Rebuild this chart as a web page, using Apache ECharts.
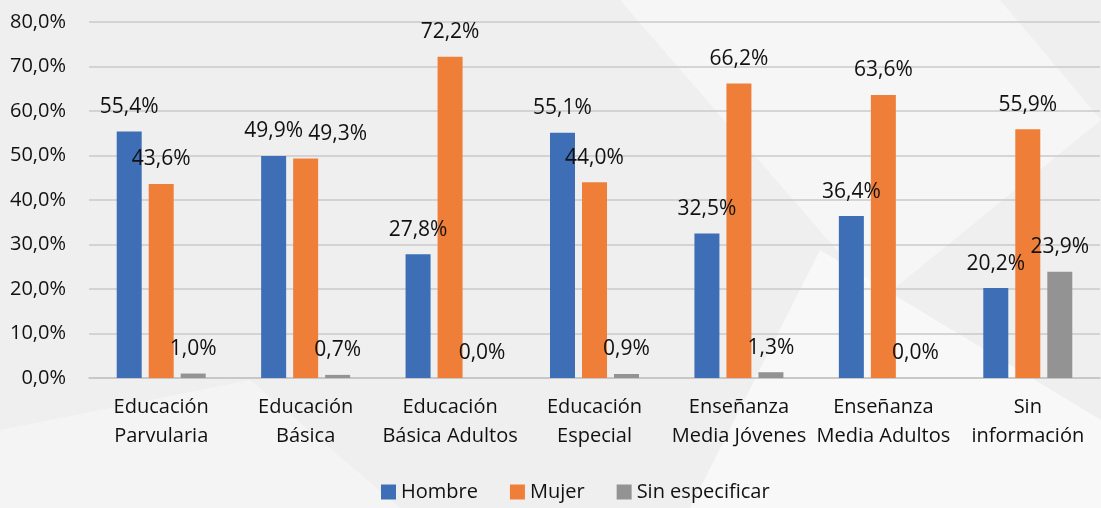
<!DOCTYPE html>
<html lang="es">
<head>
<meta charset="UTF-8">
<title>Gráfico</title>
<script src="https://cdn.jsdelivr.net/npm/echarts@6/dist/echarts.min.js"></script>
<style>
  * { margin: 0; padding: 0; }
  #chart { width: 1101px; height: 508px; }
</style>
</head>
<body>
<div id="chart"></div>
<script>
  const categories = [
    'Educación\nParvularia',
    'Educación\nBásica',
    'Educación\nBásica Adultos',
    'Educación\nEspecial',
    'Enseñanza\nMedia Jóvenes',
    'Enseñanza\nMedia Adultos',
    'Sin\ninformación'
  ]
  const hombre = [55.4, 49.9, 27.8, 55.1, 32.5, 36.4, 20.2]
  const mujer = [43.6, 49.3, 72.2, 44.0, 66.2, 63.6, 55.9]
  const sinEspecificar = [1.0, 0.7, 0.0, 0.9, 1.3, 0.0, 23.9]

  const fmt = v => v.toFixed(1).replace('.', ',') + '%'
  const font = '"Open Sans", sans-serif'

  const chart = echarts.init(document.getElementById('chart'))

  function barSeries(name, data) {
    return {
      name: name,
      type: 'bar',
      data: data,
      barWidth: 25,
      barGap: '28%',
      label: {
        show: true,
        position: 'top',
        distance: 14,
        color: '#111',
        fontFamily: font,
        fontSize: 21,
        formatter: p => fmt(p.value)
      }
    }
  }

  // the "49,3%" label sits to the right of its bar, as in the original
  const mujerData = mujer.map((v, i) => i === 1 ? { value: v, label: { offset: [32, 0] } } : v)

  const option = {
    backgroundColor: '#efefef',
    color: ['#3e6eb6', '#ef7f38', '#939393'],
    animation: false,
    graphic: [
      // faint white shapes of the background
      { type: 'polygon', z: -10, shape: { points: [[690, 508], [820, 250], [1101, 420], [1101, 508]] }, style: { fill: 'rgba(255,255,255,0.55)' } },
      { type: 'polygon', z: -10, shape: { points: [[620, 0], [1000, 0], [1101, 120], [880, 300]] }, style: { fill: 'rgba(255,255,255,0.45)' } },
      { type: 'polygon', z: -10, shape: { points: [[0, 430], [250, 380], [400, 508], [0, 508]] }, style: { fill: 'rgba(255,255,255,0.35)' } }
    ],
    legend: {
      data: ['Hombre', 'Mujer', 'Sin especificar'],
      left: 376,
      bottom: 1,
      itemWidth: 15,
      itemHeight: 15,
      itemGap: 32,
      icon: 'rect',
      textStyle: { fontFamily: font, fontSize: 20, color: '#111' }
    },
    grid: {
      left: 89,
      right: 1,
      top: 22,
      bottom: 130
    },
    xAxis: {
      type: 'category',
      data: categories,
      axisTick: { show: false },
      axisLine: { lineStyle: { color: '#c4c4c4', width: 1.5 } },
      axisLabel: {
        fontFamily: font,
        fontSize: 20,
        lineHeight: 29,
        color: '#111',
        margin: 15,
        interval: 0
      }
    },
    yAxis: {
      type: 'value',
      min: 0,
      max: 80,
      interval: 10,
      axisLine: { show: false },
      axisTick: { show: false },
      splitLine: { lineStyle: { color: '#cacaca', width: 1.5 } },
      axisLabel: {
        fontFamily: font,
        fontSize: 20,
        color: '#111',
        margin: 23,
        formatter: v => fmt(v)
      }
    },
    series: [
      barSeries('Hombre', hombre),
      barSeries('Mujer', mujerData),
      barSeries('Sin especificar', sinEspecificar)
    ]
  }

  chart.setOption(option)
</script>
</body>
</html>
